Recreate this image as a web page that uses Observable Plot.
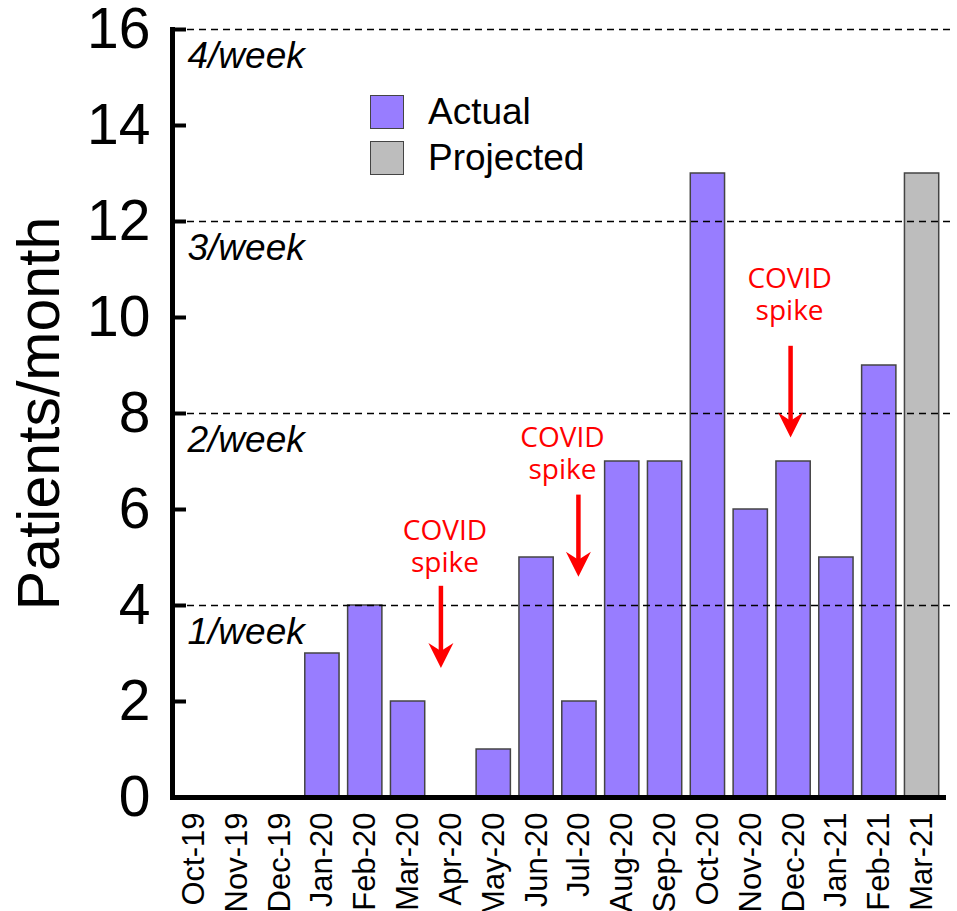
<!DOCTYPE html>
<html>
<head>
<meta charset="utf-8">
<script src="https://cdn.jsdelivr.net/npm/d3@7"></script>
<script src="https://cdn.jsdelivr.net/npm/@observablehq/plot@0.6"></script>
<style>
  html, body { margin: 0; padding: 0; background: #fff; }
  #wrap { position: relative; width: 957px; height: 911px; overflow: hidden; }
  #legend { position: absolute; left: 370px; top: 89px; font-family: "Liberation Sans", Arial, sans-serif; font-size: 37px; color: #000; }
  .item { display: flex; align-items: center; height: 46px; }
  .sw { width: 32px; height: 32px; border: 1.5px solid #444; margin-right: 24px; box-sizing: content-box; }
</style>
</head>
<body>
<div id="wrap"></div>
<script>
// ---- data ----
const months = ["Oct-19","Nov-19","Dec-19","Jan-20","Feb-20","Mar-20","Apr-20","May-20","Jun-20","Jul-20","Aug-20","Sep-20","Oct-20","Nov-20","Dec-20","Jan-21","Feb-21","Mar-21"];
const patients = [0,0,0,3,4,2,0,1,5,2,7,7,13,6,7,5,9,13];
const status = ["Actual","Actual","Actual","Actual","Actual","Actual","Actual","Actual","Actual","Actual","Actual","Actual","Actual","Actual","Actual","Actual","Actual","Projected"];
const seriesNames = ["Actual","Projected"];
const yTicks = [0,2,4,6,8,10,12,14,16];
const weekLines = [4,8,12,16];
const weekLabels = ["1/week","2/week","3/week","4/week"];
const spikeMonths = ["Apr-20","Jul-20","Dec-20"];
const spikeArrowTop = [4.4, 6.3, 9.4];
const spikeArrowTip = [2.7, 4.6, 7.5];
const spikeLabelTop = [5.77, 7.71, 11.02];
const spikeLine1 = "COVID";
const spikeLine2 = "spike";

// ---- build tables ----
const bars = months.map((m, i) => ({month: m, value: patients[i], status: status[i]}));
const weeks = weekLines.map((v, i) => ({v, label: weekLabels[i]}));
const spikes = spikeMonths.map((m, i) => ({month: m, top: spikeArrowTop[i], tip: spikeArrowTip[i], label: spikeLabelTop[i]}));

const colors = ["#987dff", "#bdbdbd"];
const font = "'Liberation Sans', Arial, sans-serif";
// small horizontal nudges of the annotations (styling only)
const arrowNudge = [-10, -1, -3];
const labelNudge = [-6, -17, -4];

// stealth arrowhead pointing down, tip at origin
const stealth = {
  draw(context, size) {
    const r = Math.sqrt(size / Math.PI);
    context.moveTo(0, 0);
    context.lineTo(-r, -2 * r);
    context.lineTo(0, -1.35 * r);
    context.lineTo(r, -2 * r);
    context.closePath();
  }
};

const W = 957, H = 911, mL = 172, mR = 14;
const frameW = W - mL - mR;

const spikeMarks = spikes.flatMap((s, i) => [
  Plot.ruleX([s], {x: "month", y1: "top", y2: "tip", stroke: "#ff0000", strokeWidth: 4.5, insetBottom: 12, dx: arrowNudge[i]}),
  Plot.dot([s], {x: "month", y: "tip", symbol: stealth, r: 12.5, fill: "#ff0000", stroke: "none", dx: arrowNudge[i]}),
  Plot.text([s], {x: "month", y: "label", text: () => spikeLine1, lineAnchor: "top", fill: "#ff0000", fontSize: 28, fontFamily: "'Open Sans', sans-serif", letterSpacing: "1px", dx: labelNudge[i]}),
  Plot.text([s], {x: "month", y: "label", text: () => spikeLine2, lineAnchor: "top", dy: 32, fill: "#ff0000", fontSize: 28, fontFamily: "'Open Sans', sans-serif", letterSpacing: "1px", dx: labelNudge[i]})
]);

const chart = Plot.plot({
  width: W,
  height: H,
  marginLeft: mL,
  marginRight: mR,
  marginTop: 29,
  marginBottom: 114,
  style: {fontFamily: font, background: "#fff", overflow: "visible"},
  x: {domain: months, paddingInner: 0.2, paddingOuter: 0.1, round: false, label: null},
  y: {domain: [0, 16], label: null},
  color: {domain: seriesNames, range: colors},
  marks: [
    Plot.barY(bars, {x: "month", y: "value", fill: "status", stroke: "#444", strokeWidth: 1.5}),
    Plot.ruleY(weeks, {y: "v", stroke: "#000", strokeWidth: 1.4, strokeDasharray: "7,5", insetLeft: 3, insetRight: -7}),
    Plot.text(weeks, {y: "v", text: "label", frameAnchor: "left", dx: 15, dy: 12, lineAnchor: "top", textAnchor: "start", fontStyle: "italic", fontSize: 37, fill: "#000"}),
    Plot.ruleY(yTicks, {y: d => d, stroke: "#000", strokeWidth: 4, insetRight: frameW - 14}),
    Plot.frame({anchor: "left", stroke: "#000", strokeWidth: 5}),
    Plot.frame({anchor: "bottom", stroke: "#000", strokeWidth: 5}),
    Plot.axisY({ticks: yTicks, tickSize: 0, tickPadding: 22, fontSize: 57, tickFormat: d => String(d), fill: "#000"}),
    Plot.axisX({tickRotate: -90, tickSize: 0, tickPadding: 15, fontSize: 31, fill: "#000"}),
    Plot.text(["Patients/month"], {text: d => d, frameAnchor: "left", rotate: -90, dx: -132, textAnchor: "middle", lineAnchor: "middle", fontSize: 59, fill: "#000"}),
    ...spikeMarks
  ]
});

const wrap = document.getElementById("wrap");
wrap.appendChild(chart);

const legend = document.createElement("div");
legend.id = "legend";
seriesNames.forEach((name, i) => {
  const item = document.createElement("div");
  item.className = "item";
  const sw = document.createElement("div");
  sw.className = "sw";
  sw.style.background = colors[i];
  const label = document.createElement("span");
  label.textContent = name;
  item.appendChild(sw);
  item.appendChild(label);
  legend.appendChild(item);
});
wrap.appendChild(legend);
</script>
</body>
</html>
